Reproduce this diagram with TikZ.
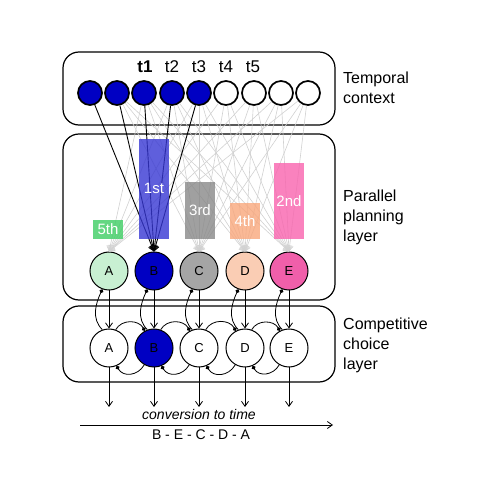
\documentclass[tikz,border=0pt]{standalone}
\usepackage{fontspec}
\setmainfont{Liberation Sans}
\usetikzlibrary{arrows.meta,positioning}
\definecolor{ctxblue}{RGB}{0,0,195}
\definecolor{barblue}{RGB}{55,55,211}
\definecolor{bargreen}{RGB}{61,205,99}
\definecolor{bargray}{RGB}{136,136,136}
\definecolor{barpeach}{RGB}{249,167,124}
\definecolor{barpink}{RGB}{249,99,174}
\definecolor{unitgreen}{RGB}{200,240,210}
\definecolor{unitgray}{RGB}{165,165,165}
\definecolor{unitpeach}{RGB}{250,205,180}
\definecolor{unitpink}{RGB}{240,95,170}
\tikzset{>={Straight Barb[length=5pt,width=7pt]}}

\begin{document}
\begin{tikzpicture}[x=1pt,y=1pt,
    ctx/.style={circle,draw,line width=1.7pt,minimum size=24pt,inner sep=0pt},
    unit/.style={circle,draw,line width=1pt,minimum size=38pt,inner sep=0pt,font=\fontsize{13}{13}\selectfont},
    layer/.style={draw,line width=1.2pt,rounded corners=16pt},
    bar/.style={anchor=south,minimum width=30pt,inner sep=0pt,text=white,fill opacity=0.8,text opacity=1,font=\fontsize{15}{15}\selectfont},
    strong/.style={->,line width=0.9pt},
    weak/.style={->,draw=black!18,line width=0.6pt},
    inh/.style={-{Circle[length=4pt]},line width=0.8pt},
    lbl/.style={anchor=west,align=left,inner sep=0pt,font=\fontsize{16}{20}\selectfont}]
\useasboundingbox (0,0) rectangle (480,480);

% layers
\draw[layer] (63,355) rectangle (335,428);
\draw[layer] (63,180) rectangle (335,346);
\draw[layer] (63,98) rectangle (335,174);

% temporal context
\foreach \i/\x/\f in {1/90/ctxblue,2/117/ctxblue,3/144/ctxblue,4/172/ctxblue,5/199/ctxblue,
                      6/226/white,7/254/white,8/281/white,9/308/white}
  \node[ctx,fill=\f] (ctx\i) at (\x,387) {};

\node[font=\fontsize{17}{17}\selectfont\bfseries] (t1) at (145,413) {t1};
\foreach \i/\x in {2/172,3/199,4/226,5/253}
  \node[font=\fontsize{17}{17}\selectfont] (t\i) at (\x,413) {t\i};

% planning and choice units
\foreach \u/\x/\f in {A/109/unitgreen,B/154/ctxblue,C/199/unitgray,D/245/unitpeach,E/289/unitpink}
  \node[unit,fill=\f] (plan\u) at (\x,209) {\u};
\foreach \u/\x/\f in {A/109/white,B/154/ctxblue,C/199/white,D/245/white,E/289/white}
  \node[unit,fill=\f] (choice\u) at (\x,132) {\u};

% context weights
\foreach \i in {2,...,9}
  \foreach \u in {C,D,E}
    \draw[weak] (ctx\i) -- (plan\u.north);
\foreach \i in {3,...,9}
  \draw[weak] (ctx\i) -- (planA.north);
\foreach \i in {1,...,5}
  \draw[strong] (ctx\i) -- (planB.north);

% activation gradient
\foreach \k/\x/\h/\f/\lab in {5/108/19/bargreen/5th,1/154/100/barblue/1st,3/200/57/bargray/3rd,
                              4/245/36/barpeach/4th,2/289/76/barpink/2nd}
  \node[bar,fill=\f,minimum height=\h] (bar\k) at (\x,241) {\lab};

% between layers
\foreach \u in {A,...,E} {
  \draw[->,line width=0.8pt] (plan\u) -- (choice\u);
  \draw[inh] (choice\u.110) to[out=135,in=245] (plan\u.250);
  \coordinate (out\u) at (choice\u |- 0,73);
  \draw[->,line width=0.8pt] (choice\u) -- (out\u);
}
\foreach \u/\v in {A/B,B/C,C/D,D/E} {
  \draw[inh] (choice\u.70) to[out=60,in=120,looseness=1.1] (choice\v.118);
  \draw[inh] (choice\v.240) to[out=240,in=300,looseness=1.2] (choice\u.293);
}

% output in time
\coordinate (tstart) at (80,55);
\coordinate (tend) at (333,55);
\draw[->,line width=0.8pt] (tstart) -- (tend);
\node[font=\fontsize{14}{14}\selectfont\itshape] (conv) at (199,66) {conversion to time};
\node[font=\fontsize{14}{14}\selectfont] (order) at (201,45) {B - E - C - D - A};

% layer names
\node[lbl] (ctxname) at (343,392) {Temporal\\context};
\node[lbl] (planname) at (343,263) {Parallel\\planning\\layer};
\node[lbl] (choicename) at (343,135) {Competitive\\choice\\layer};
\end{tikzpicture}
\end{document}
